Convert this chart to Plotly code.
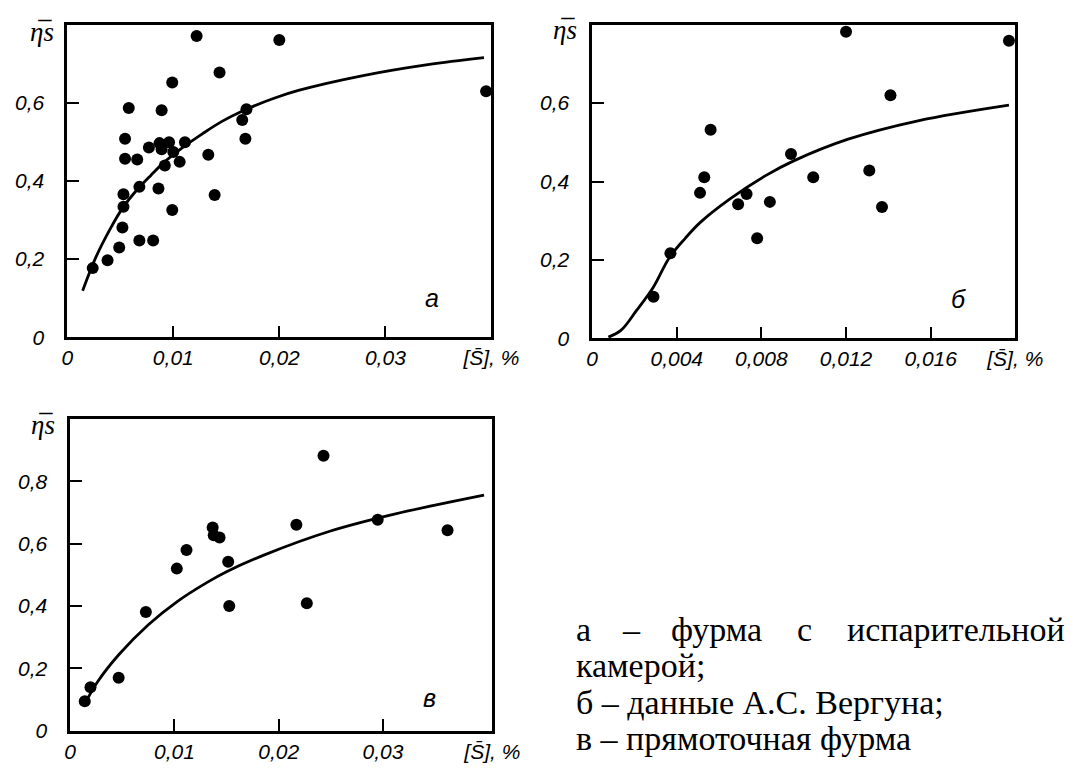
import plotly.graph_objects as go

W, H = 1075, 776

# ---------------- data ----------------
# panel а
a_x = [0.0024, 0.0038, 0.0049, 0.0052, 0.0053, 0.0053, 0.00545, 0.00545, 0.0058, 0.0066, 0.0068,
       0.0068, 0.0077, 0.0081, 0.0086, 0.0087, 0.0089, 0.0089, 0.0092, 0.0096, 0.0099, 0.0099,
       0.0100, 0.0106, 0.0111, 0.0122, 0.0133, 0.0139, 0.01436, 0.0165, 0.0168, 0.0169, 0.0200, 0.0395]
a_y = [0.177, 0.197, 0.230, 0.281, 0.334, 0.366, 0.508, 0.457, 0.587, 0.455, 0.385,
       0.248, 0.486, 0.248, 0.381, 0.497, 0.481, 0.581, 0.440, 0.499, 0.652, 0.326,
       0.474, 0.449, 0.499, 0.771, 0.467, 0.364, 0.678, 0.556, 0.508, 0.584, 0.761, 0.630]
a_curve_x = [0.00145, 0.0027, 0.0040, 0.0052, 0.0065, 0.0079, 0.0091, 0.0109, 0.0127, 0.01455,
             0.0170, 0.0195, 0.0218, 0.0279, 0.0340, 0.0393]
a_curve_y = [0.119, 0.205, 0.275, 0.330, 0.375, 0.415, 0.447, 0.486, 0.520, 0.552,
             0.585, 0.612, 0.632, 0.670, 0.698, 0.716]

# panel б
b_x = [0.0029, 0.0037, 0.0051, 0.0053, 0.0056, 0.0069, 0.0073, 0.0078, 0.0084, 0.0094,
       0.01045, 0.0120, 0.0131, 0.0137, 0.0141, 0.0197]
b_y = [0.106, 0.217, 0.371, 0.411, 0.532, 0.342, 0.368, 0.255, 0.348, 0.470,
       0.411, 0.782, 0.428, 0.335, 0.620, 0.759]
b_curve_x = [0.00077, 0.00136, 0.0021, 0.0029, 0.00364, 0.0044, 0.0051, 0.0065, 0.0082, 0.0095,
             0.0121, 0.0154, 0.0197]
b_curve_y = [0.003, 0.020, 0.071, 0.131, 0.205, 0.255, 0.295, 0.355, 0.415, 0.452,
             0.508, 0.555, 0.595]

# panel в
c_x = [0.0014, 0.00195, 0.00465, 0.00726, 0.01023, 0.01116, 0.01367, 0.01377, 0.01433,
       0.01516, 0.01526, 0.0217, 0.0227, 0.0243, 0.0295, 0.0362]
c_y = [0.094, 0.139, 0.170, 0.381, 0.520, 0.580, 0.652, 0.627, 0.620,
       0.542, 0.400, 0.661, 0.409, 0.882, 0.677, 0.643]
c_curve_x = [0.0013, 0.0026, 0.0047, 0.0075, 0.0103, 0.0131, 0.0150, 0.0187, 0.0249, 0.0311, 0.0397]
c_curve_y = [0.079, 0.155, 0.245, 0.340, 0.415, 0.475, 0.510, 0.565, 0.640, 0.695, 0.756]

x_label = "[S\u0304], %"
y_label = "<i>\u03b7\u0305s</i>"

a_xticks = [0, 0.01, 0.02, 0.03, 0.04]
a_xtext = ["0", "0,01", "0,02", "0,03", x_label]
a_yticks = [0, 0.2, 0.4, 0.6]
a_ytext = ["0", "0,2", "0,4", "0,6"]

b_xticks = [0, 0.004, 0.008, 0.012, 0.016, 0.02]
b_xtext = ["0", "0,004", "0,008", "0,012", "0,016", x_label]
b_yticks = [0, 0.2, 0.4, 0.6]
b_ytext = ["0", "0,2", "0,4", "0,6"]

c_xticks = [0, 0.01, 0.02, 0.03, 0.0405]
c_xtext = ["0", "0,01", "0,02", "0,03", x_label]
c_yticks = [0, 0.2, 0.4, 0.6, 0.8]
c_ytext = ["0", "0,2", "0,4", "0,6", "0,8"]

panel_letters = ["а", "б", "в"]
legend_first_words = ["а", "\u2013", "фурма", "с", "испарительной"]
legend_lines = ["камерой;", "б \u2013 данные А.С. Вергуна;", "в \u2013 прямоточная фурма"]


def px(x):
    return x / W


def py(y):
    return 1 - y / H


fig = go.Figure()

panels = [
    ("x", "y", a_x, a_y, a_curve_x, a_curve_y),
    ("x2", "y2", b_x, b_y, b_curve_x, b_curve_y),
    ("x3", "y3", c_x, c_y, c_curve_x, c_curve_y),
]
for xa, ya, sx, sy, cx, cy in panels:
    fig.add_trace(go.Scatter(x=cx, y=cy, mode="lines", xaxis=xa, yaxis=ya,
                             line=dict(color="black", width=2.8, shape="spline", smoothing=1.0),
                             hoverinfo="skip", showlegend=False, cliponaxis=False))
    fig.add_trace(go.Scatter(x=sx, y=sy, mode="markers", xaxis=xa, yaxis=ya,
                             marker=dict(color="black", size=12),
                             showlegend=False, cliponaxis=False))

tick_font = dict(family="Liberation Sans, Arial", size=21, color="black", style="italic")


def axis(domain, rng, tv, tt, anchor, standoff):
    return dict(domain=domain, range=rng, tickvals=tv, ticktext=tt, anchor=anchor,
                ticks="inside", ticklen=12, tickwidth=2, tickcolor="black",
                showline=True, linewidth=2.5, linecolor="black", mirror=True,
                showgrid=False, zeroline=False, tickfont=tick_font,
                ticklabelstandoff=standoff, fixedrange=True)


fig.update_layout(
    width=W, height=H, margin=dict(l=0, r=0, t=0, b=0),
    paper_bgcolor="white", plot_bgcolor="white",
    xaxis=axis([px(55), px(493)], [0, 0.04], a_xticks, a_xtext, "y", 0),
    yaxis=axis([py(334), py(17)], [0, 0.8], a_yticks, a_ytext, "x", 16),
    xaxis2=axis([px(597), px(1034)], [0, 0.02], b_xticks, b_xtext, "y2", 0),
    yaxis2=axis([py(335), py(17)], [0, 0.8], b_yticks, b_ytext, "x2", 16),
    xaxis3=axis([px(58), px(494)], [0, 0.0405], c_xticks, c_xtext, "y3", 0),
    yaxis3=axis([py(733), py(417)], [0, 1.0], c_yticks, c_ytext, "x3", 16),
)

ann = []
for (x, y) in [(29, 24), (569, 22), (30, 423)]:
    ann.append(dict(x=px(x), y=py(y), xref="paper", yref="paper", text=y_label, showarrow=False,
                    font=dict(family="Liberation Serif, Times New Roman", size=27, color="black"),
                    xanchor="center", yanchor="middle"))
for letter, (x, y) in zip(panel_letters, [(432, 294), (975, 295), (429, 700)]):
    ann.append(dict(x=px(x), y=py(y), xref="paper", yref="paper", text=letter, showarrow=False,
                    font=dict(family="Liberation Sans, Arial", size=25, color="black", style="italic"),
                    xanchor="center", yanchor="middle"))

legend_font = dict(family="Liberation Serif, Times New Roman", size=34, color="black")
# first (justified) line: words spread across the full width
for word, x in zip(legend_first_words, [578, 626, 676, 806, 858]):
    ann.append(dict(x=px(x), y=py(630), xref="paper", yref="paper", text=word, showarrow=False,
                    font=legend_font, xanchor="left", yanchor="middle"))
for line, y in zip(legend_lines, [667, 704, 741]):
    ann.append(dict(x=px(578), y=py(y), xref="paper", yref="paper", text=line, showarrow=False,
                    font=legend_font, xanchor="left", yanchor="middle"))
fig.update_layout(annotations=ann)

fig.write_html("out.html")
